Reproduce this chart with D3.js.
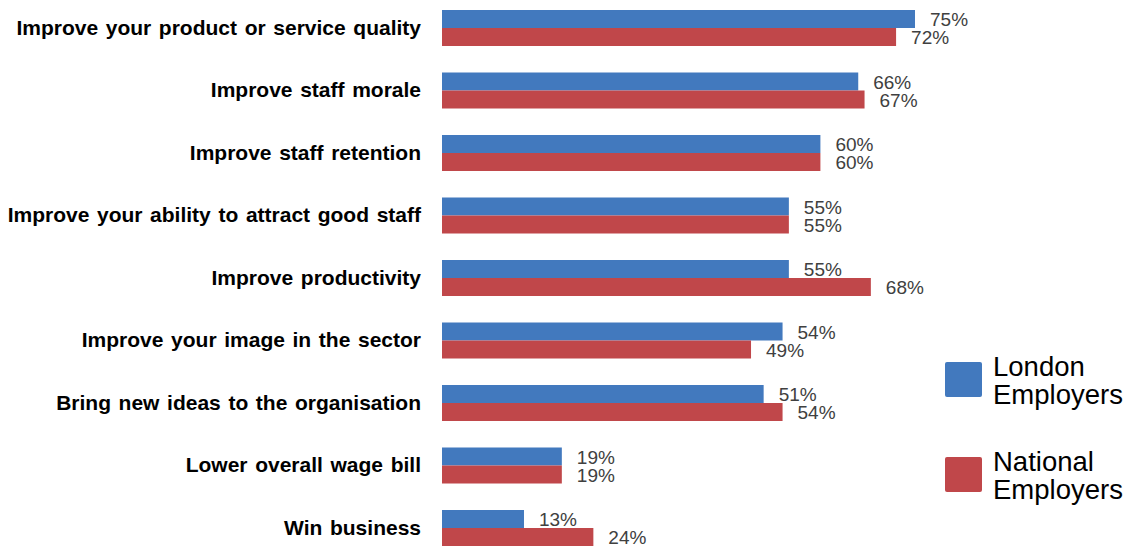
<!DOCTYPE html>
<html><head><meta charset="utf-8">
<script src="https://cdn.jsdelivr.net/npm/d3@7"></script>
<style>body{margin:0;background:#fff}svg{display:block}</style>
</head><body>
<svg id="chart" width="1133" height="547"></svg>
<script>
const categories = [
  "Improve your product or service quality",
  "Improve staff morale",
  "Improve staff retention",
  "Improve your ability to attract good staff",
  "Improve productivity",
  "Improve your image in the sector",
  "Bring new ideas to the organisation",
  "Lower overall wage bill",
  "Win business"
];
const seriesNames = ["London Employers", "National Employers"];
const londonValues = [75, 66, 60, 55, 55, 54, 51, 19, 13];
const nationalValues = [72, 67, 60, 55, 68, 49, 54, 19, 24];
const seriesColors = ["#4279be", "#c0474a"];

const svg = d3.select("#chart");
const x = d3.scaleLinear().domain([0, 75]).range([442, 915]);
const y = d3.scaleBand().domain(categories).range([-3.25, 559.25]).paddingInner(0.424).paddingOuter(0.212);
const ySub = d3.scaleBand().domain(seriesNames).range([0, y.bandwidth()]);

const data = categories.map((c, i) => ({cat: c, vals: [londonValues[i], nationalValues[i]]}));

const g = svg.selectAll("g.cat").data(data).join("g").attr("class", "cat")
  .attr("transform", d => `translate(0,${y(d.cat)})`);

g.selectAll("rect").data(d => d.vals.map((v, k) => ({v, k})))
  .join("rect")
  .attr("x", x(0))
  .attr("y", d => ySub(seriesNames[d.k]))
  .attr("width", d => x(d.v) - x(0))
  .attr("height", ySub.bandwidth())
  .attr("fill", d => seriesColors[d.k]);

g.selectAll("text.val").data(d => d.vals.map((v, k) => ({v, k})))
  .join("text").attr("class", "val")
  .attr("x", d => x(d.v) + 15)
  .attr("y", d => ySub(seriesNames[d.k]) + ySub.bandwidth() / 2 + 7)
  .attr("font-family", "Liberation Sans, Arial, sans-serif")
  .attr("font-size", 19)
  .attr("fill", "#404040")
  .text(d => d.v + "%");

// category labels
svg.append("g").selectAll("text").data(categories).join("text")
  .attr("x", 421)
  .attr("y", d => y(d) + y.bandwidth() / 2 + 6.5)
  .attr("text-anchor", "end")
  .attr("font-family", "Liberation Sans, Arial, sans-serif")
  .attr("font-weight", "bold")
  .attr("font-size", 21)
  .attr("word-spacing", 1.8)
  .attr("fill", "#000")
  .text(d => d);

// legend
const legend = svg.append("g");
const legendTop = [362, 457];
seriesNames.forEach((name, k) => {
  legend.append("rect").attr("x", 945).attr("y", legendTop[k]).attr("width", 37).attr("height", 35)
    .attr("rx", 2).attr("fill", seriesColors[k]);
  const words = name.split(" ");
  const t = legend.append("text")
    .attr("font-family", "Liberation Sans, Arial, sans-serif")
    .attr("font-size", 27.5).attr("fill", "#000");
  words.forEach((w, j) => {
    t.append("tspan").attr("x", 993).attr("y", legendTop[k] + 14 + j * 28).text(w);
  });
});
</script>
</body></html>
